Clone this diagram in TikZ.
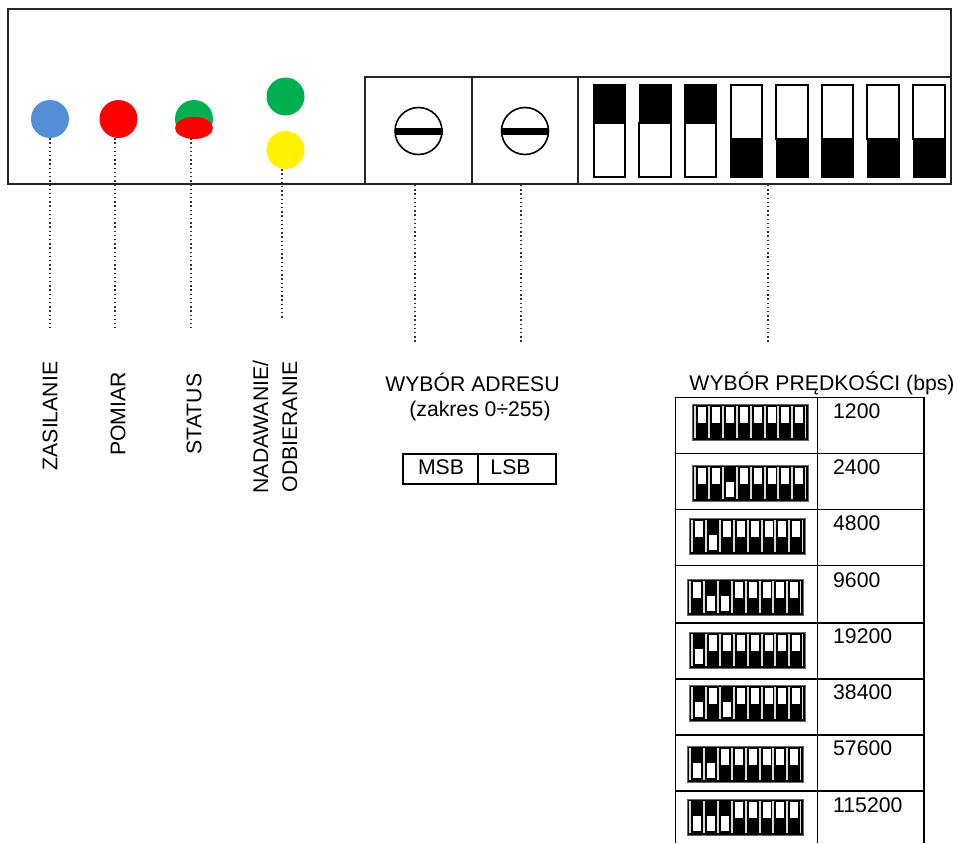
\documentclass[tikz,border=0pt]{standalone}
\usepackage{fontspec}
\setmainfont{Liberation Sans}
\usetikzlibrary{positioning,shapes.geometric}

\definecolor{ledblue}{RGB}{85,142,213}
\definecolor{ledgreen}{RGB}{0,176,80}

\tikzset{
  frame/.style={draw=black!85,line width=1.9pt},
  led/.style={circle,minimum size=38pt,inner sep=0pt,fill=#1},
  leader/.style={black!80,line width=1.3pt,dash pattern=on 1.4pt off 2.8pt},
  cellbox/.style={draw=black!85,line width=1.9pt,minimum width=#1,minimum height=107pt,inner sep=0pt},
  txt/.style={inner sep=0pt,font=\fontsize{21.2}{29}\selectfont},
  sidetxt/.style={txt,rotate=90,align=center},
  tbl/.style={draw=black,line width=1.9pt}
}

\begin{document}
\begin{tikzpicture}[x=1pt, y=-1pt]
  \useasboundingbox (0,0) rectangle (958,843);
  \draw[frame] (8,184) -- (8,9) -- (951,9) -- (951,184) -- cycle;
  % LEDs
  \node[led=ledblue] (zas) at (50,119) {};
  \node[led=red] (pom) at (118.5,119) {};
  \node[led=ledgreen] (sta) at (194,119) {};
  \node[ellipse,minimum width=38pt,minimum height=22pt,inner sep=0pt,fill=red] (staB) at (194,128) {};
  \node[led=ledgreen] (nadA) at (285.5,96.5) {};
  \node[led=yellow] (nadB) at (285.5,150) {};
  % address and speed boxes
  \node[cellbox=107pt] (msbBox) at (418.5,130.5) {};
  \node[cellbox=106pt] (lsbBox) at (525,130.5) {};
  \node[cellbox=373pt] (dipBox) at (764.5,130.5) {};
  \foreach \v/\n in {418.5/msbScrew,525/lsbScrew}{
    \node[circle,draw=black,line width=1.6pt,minimum size=47pt,inner sep=0pt] (\n) at (\v,131) {};
    \fill (\v-24,127.5) rectangle (\v+24,134.5);
  }
  % big switches
  \foreach \v in {593,638.5,684}{
    \draw[black,line width=1.7pt,fill=white] (\v+.8,123) rectangle (\v+32.2,177);
    \fill (\v,84) rectangle (\v+33,124);
  }
  \foreach \v in {730,775.5,821,866.5,912.5}{
    \draw[black,line width=1.7pt,fill=white] (\v+.8,85) rectangle (\v+32.2,139);
    \fill (\v,138) rectangle (\v+33,178);
  }
  % leaders
  \coordinate (zasEnd) at (50,328);
  \coordinate (pomEnd) at (115,328);
  \coordinate (staEnd) at (191,328);
  \coordinate (nadEnd) at (282,320);
  \coordinate (msbEnd) at (415,342);
  \coordinate (lsbEnd) at (521,342);
  \coordinate (dipEnd) at (768,342);
  \draw[leader] (zas.south) -- (zasEnd);
  \draw[leader] (pomEnd |- pom.south) -- (pomEnd);
  \draw[leader] (staEnd |- sta.south) -- (staEnd);
  \draw[leader] (nadEnd |- nadB.south) -- (nadEnd);
  \draw[leader] (msbEnd |- msbBox.south) -- (msbEnd);
  \draw[leader] (lsbEnd |- lsbBox.south) -- (lsbEnd);
  \draw[leader] (dipEnd |- dipBox.south) -- (dipEnd);
  % labels
  \node[sidetxt] (zasTxt) at (50,416) {ZASILANIE};
  \node[sidetxt] (pomTxt) at (118,414) {POMIAR};
  \node[sidetxt] (staTxt) at (194,414) {STATUS};
  \node[sidetxt] (nadTxt) at (275,427) {NADAWANIE/\\ODBIERANIE};
  \node[txt] (adrTxt) at (472.5,382) {WYBÓR ADRESU};
  \node[txt] (rngTxt) at (480,411) {(zakres 0÷255)};
  \node[txt] (spdTxt) at (822,383) {WYBÓR PRĘDKOŚCI (bps)};
  % MSB / LSB
  \draw[tbl] (403,454) rectangle (556,484) (478,454) -- (478,484);
  \node[txt] (msbTxt) at (441,467.5) {MSB};
  \node[txt] (lsbTxt) at (510.5,467.5) {LSB};
  % speed table
  \draw[tbl] (675.5,843) -- (675.5,397.5) -- (924,397.5) -- (924,843) (817.5,397.5) -- (817.5,843);
  \foreach \v in {453.5,509.5,565.5,623,679,735,791}
    \draw[tbl] (675.5,\v) -- (924,\v);
  \foreach \v/\t/\n in {411/1200/a,467/2400/b,523/4800/c,580/9600/d,636/19200/e,692/38400/f,748/57600/g,805/115200/h}
    \node[txt,anchor=west] (spd\n) at (833,\v) {\t};
  % small switches: left, top, states
  \foreach \mx/\my/\bits in {
    692/404/{0,0,0,0,0,0,0,0},
    692/465/{0,0,1,0,0,0,0,0},
    689/518/{0,1,0,0,0,0,0,0},
    687/579/{0,1,1,0,0,0,0,0},
    689/632/{1,0,0,0,0,0,0,0},
    689/685/{1,0,1,0,0,0,0,0},
    687/746/{1,1,0,0,0,0,0,0},
    687/799/{1,1,1,0,0,0,0,0}}{
    \fill[black] (\mx,\my) rectangle (\mx+116,\my+36);
    \draw[black!60,line width=.5pt] (\mx,\my) rectangle (\mx+116,\my+36);
    \foreach \b [count=\i from 0] in \bits {
      \fill[white!85!black] (\mx+2+13.9*\i,\my+2) rectangle (\mx+4+13.9*\i,\my+33.5);
      \ifnum\b=0
        \fill[white] (\mx+6+13.9*\i,\my+3) rectangle (\mx+14+13.9*\i,\my+18.5);
      \else
        \fill[white] (\mx+6+13.9*\i,\my+17) rectangle (\mx+14+13.9*\i,\my+31.5);
      \fi
    }
    \fill[white!85!black] (\mx+113.2,\my+2) rectangle (\mx+114.4,\my+33.5);
  }
\end{tikzpicture}
\end{document}
